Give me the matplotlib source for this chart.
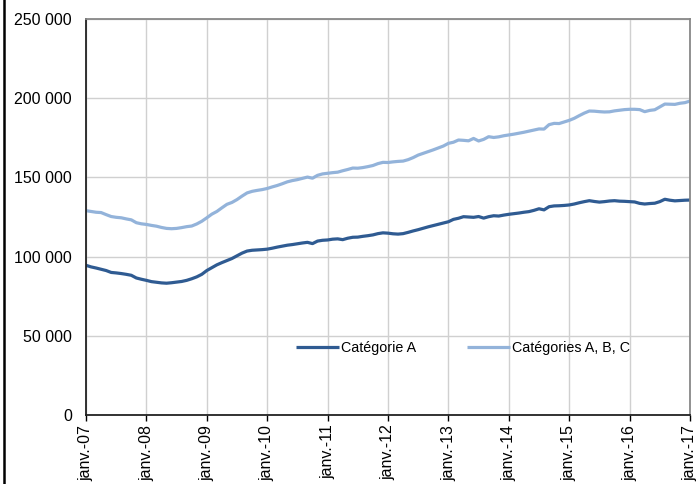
import matplotlib
matplotlib.use("Agg")
import matplotlib.pyplot as plt
from matplotlib.lines import Line2D
from matplotlib.ticker import FuncFormatter

plt.rcParams['font.family'] = ['Liberation Sans', 'DejaVu Sans']

years = ["07", "08", "09", "10", "11", "12", "13", "14", "15", "16", "17"]
tick_labels = ["janv.-" + y for y in years]

cat_a = [
    94500, 93500, 92800, 92000, 91200, 90000, 89700, 89300, 88800, 88200, 86500, 85700,
    85000, 84200, 83800, 83400, 83200, 83500, 83900, 84300, 85000, 86000, 87200, 88800,
    91200, 93000, 94800, 96200, 97500, 98800, 100500, 102200, 103500, 104000, 104200, 104400,
    104700, 105300, 106000, 106600, 107200, 107600, 108100, 108600, 109000, 108200, 109800, 110300,
    110500, 111000, 111200, 110700, 111600, 112200, 112300, 112800, 113200, 113700, 114500, 115000,
    114800, 114400, 114200, 114500, 115300, 116200, 117000, 117900, 118800, 119600, 120400, 121200,
    122000, 123500, 124200, 125200, 125000, 124800, 125300, 124300, 125200, 125800, 125600, 126200,
    126700, 127100, 127500, 128000, 128400, 129200, 130200, 129500, 131500, 132000, 132100, 132300,
    132600, 133200, 134000, 134700, 135300, 134800, 134400, 134700, 135100, 135300, 135000, 134900,
    134700, 134500, 133600, 133200, 133500, 133700, 134700, 136200, 135600, 135200, 135400, 135600,
    135700,
]

cat_abc = [
    129000, 128500, 128000, 127800, 126500, 125300, 124800, 124500, 123800, 123200, 121400, 120700,
    120300, 119700, 119200, 118400, 117800, 117600, 117800, 118300, 118900, 119300, 120600, 122300,
    124500, 126800, 128500, 130800, 133000, 134200, 136000, 138200, 140200, 141200, 141800, 142300,
    143000, 144000, 144900, 146000, 147200, 148000, 148600, 149400, 150200, 149500, 151300, 152200,
    152600, 153000, 153300, 154200, 155000, 155900, 155800, 156200, 156800, 157500, 158700, 159500,
    159400, 159800, 160100, 160300, 161200, 162500, 164100, 165200, 166300, 167400, 168600, 169800,
    171500, 172200, 173600, 173400, 173100, 174600, 173000, 174000, 175700, 175200, 175600, 176300,
    176800, 177300, 177900, 178500, 179200, 179900, 180600, 180500, 183300, 184100, 184000, 185000,
    186000, 187300, 189000, 190600, 191900, 191800, 191500, 191300, 191400, 192000, 192400, 192800,
    193000, 193000, 192800, 191500, 192300, 192700, 194500, 196300, 196200, 196100, 196800, 197200,
    198200,
]

months = list(range(len(cat_a)))

fig = plt.figure(figsize=(6.99, 4.84), dpi=100)
ax = fig.add_axes([86 / 699, 69 / 484, 604 / 699, 396 / 484])

ax.plot(months, cat_a, color='#2F5B92', lw=2.3, label='Catégorie A', solid_capstyle='butt')
ax.plot(months, cat_abc, color='#93B3DA', lw=2.3, label='Catégories A, B, C', solid_capstyle='butt')

ax.set_xlim(0, 120)
ax.set_ylim(0, 250000)
ax.set_yticks(range(0, 250001, 50000))
ax.yaxis.set_major_formatter(FuncFormatter(lambda v, p: f"{int(v):,}".replace(",", " ")))
ax.set_xticks(range(0, 121, 12))
ax.set_xticklabels(tick_labels, rotation=90, ha='center', va='top')

ax.grid(True, color='#d0d0d0', lw=1.0)
ax.set_axisbelow(True)
ax.tick_params(axis='y', length=0, pad=10, labelsize=11.5, colors='black')
ax.tick_params(axis='x', length=4, width=1, direction='out', pad=3, labelsize=11.5)

for s in ['left', 'bottom']:
    ax.spines[s].set_color('#222222')
    ax.spines[s].set_linewidth(1.3)
for s in ['top', 'right']:
    ax.spines[s].set_color('#888888')
    ax.spines[s].set_linewidth(1.3)

ax.legend(loc='center', bbox_to_anchor=(0.624, 0.169), ncol=2, frameon=False,
          fontsize=10.3, handlelength=3.0, handletextpad=0.1, columnspacing=3.6)

fig.add_artist(Line2D([3.5 / 699, 3.5 / 699], [0, 1], color='black', lw=1.8,
                      transform=fig.transFigure))

fig.savefig('out.png', dpi=100, facecolor='white')
